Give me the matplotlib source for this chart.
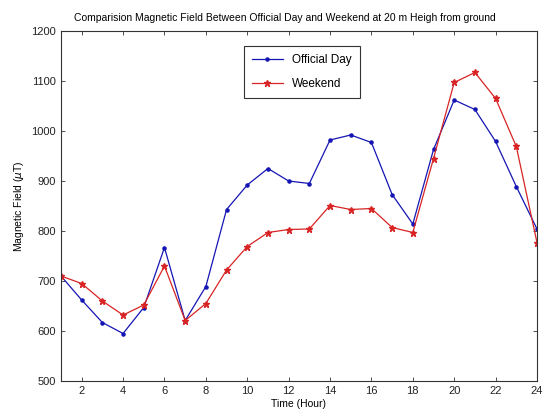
import matplotlib
matplotlib.use("Agg")
import matplotlib.pyplot as plt

plt.rcParams['font.family'] = ['Liberation Sans', 'DejaVu Sans']

hours = list(range(1, 25))
official_day = [710, 662, 617, 595, 647, 767, 621, 689, 843, 892, 925, 900,
                895, 982, 992, 977, 873, 814, 963, 1062, 1043, 979, 889, 804]
weekend = [710, 695, 660, 632, 652, 730, 621, 655, 722, 769, 797, 803,
           804, 851, 843, 845, 807, 797, 945, 1097, 1117, 1065, 969, 777]
x_ticks = list(range(2, 25, 2))
y_ticks = list(range(500, 1201, 100))

fig = plt.figure(figsize=(5.46, 4.16), dpi=100)
ax = fig.add_axes([0.1117, 0.0841, 0.8718, 0.8414])

ax.plot(hours, official_day, '-', color='#1515b5', marker='.', markersize=4.5,
        linewidth=0.9, label='Official Day')
ax.plot(hours, weekend, '-', color='#d82424', marker='*', markersize=5,
        linewidth=0.9, label='Weekend')

ax.set_xlim(1, 24)
ax.set_ylim(500, 1200)
ax.set_xticks(x_ticks)
ax.set_yticks(y_ticks)
ax.tick_params(direction='in', top=True, right=True, labelsize=8,
               length=3, width=0.6, colors='#333333', labelcolor='#222222')
for s in ax.spines.values():
    s.set_linewidth(0.8)
    s.set_color('#333333')

title = ax.set_title('Comparision Magnetic Field Between Official Day and Weekend at 20 m Heigh from ground',
                     fontsize=7.5, pad=7)
title.set_x(0.47)
ax.set_xlabel('Time (Hour)', fontsize=7.5, labelpad=2)
ax.set_ylabel(r'Magnetic Field ($\mu$T)', fontsize=7.5, labelpad=4)

leg = ax.legend(loc='upper left', bbox_to_anchor=(0.384, 0.957), borderaxespad=0,
                fontsize=8.5, fancybox=False, framealpha=1, edgecolor='#333333',
                handlelength=2.6, borderpad=0.7, labelspacing=1.0)
leg.get_frame().set_linewidth(0.8)

fig.savefig('out.png', dpi=100)
